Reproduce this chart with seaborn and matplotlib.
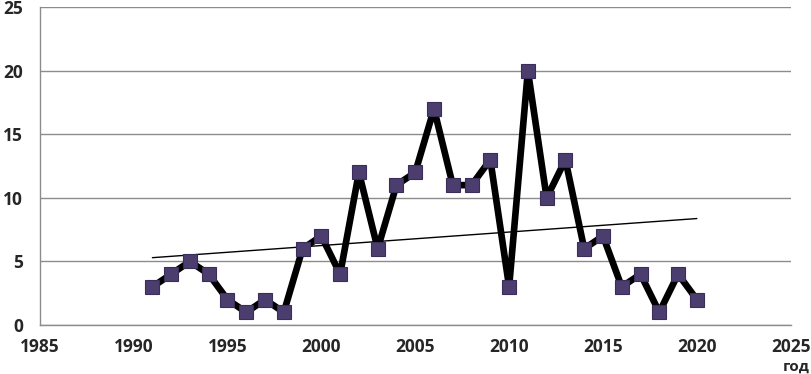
import matplotlib
matplotlib.use("Agg")
import matplotlib.pyplot as plt
import numpy as np
import pandas as pd
import seaborn as sns

years = list(range(1991, 2021))
counts = [3, 4, 5, 4, 2, 1, 2, 1, 6, 7,
          4, 12, 6, 11, 12, 17, 11, 11, 13, 3,
          20, 10, 13, 6, 7, 3, 4, 1, 4, 2]
x_ticks = [1985, 1990, 1995, 2000, 2005, 2010, 2015, 2020, 2025]
y_ticks = [0, 5, 10, 15, 20, 25]

df = pd.DataFrame({"year": years, "count": counts})

sns.set_style("white")
plt.rcParams["font.family"] = ["Open Sans", "DejaVu Sans"]

fig = plt.figure(figsize=(8.11, 3.74), dpi=100)
ax = fig.add_axes([0.049, 0.131, 0.926, 0.85])

sns.lineplot(data=df, x="year", y="count", ax=ax, color="black", linewidth=4.8,
             marker="s", markersize=10.5, markerfacecolor="#4b3d6e",
             markeredgecolor="#3a2d5a", markeredgewidth=0.8, zorder=3)

# linear trend
k, b = np.polyfit(df["year"], df["count"], 1)
tx = np.array([years[0], years[-1]])
ax.plot(tx, k * tx + b, color="black", linewidth=1, zorder=2)

ax.set_xlim(1985, 2025)
ax.set_ylim(0, 25)
ax.set_xticks(x_ticks)
ax.set_yticks(y_ticks)
ax.yaxis.grid(True, color="#8c8c8c", linewidth=1)
ax.set_axisbelow(True)
ax.set_xlabel("")
ax.set_ylabel("")
for s in ["top", "right"]:
    ax.spines[s].set_visible(False)
for s in ["left", "bottom"]:
    ax.spines[s].set_color("#8c8c8c")
    ax.spines[s].set_linewidth(1)
ax.tick_params(axis="x", direction="out", length=6, color="#8c8c8c", width=1,
               labelsize=12.5, pad=3.5)
ax.tick_params(axis="y", direction="out", length=6, color="#8c8c8c", width=1,
               labelsize=12.5, pad=6)
for lbl in ax.get_xticklabels() + ax.get_yticklabels():
    lbl.set_fontweight("bold")

fig.text(0.998, 0.0, "год", ha="right", va="bottom", fontsize=11, fontweight="bold")

plt.savefig("out.png", dpi=100)
